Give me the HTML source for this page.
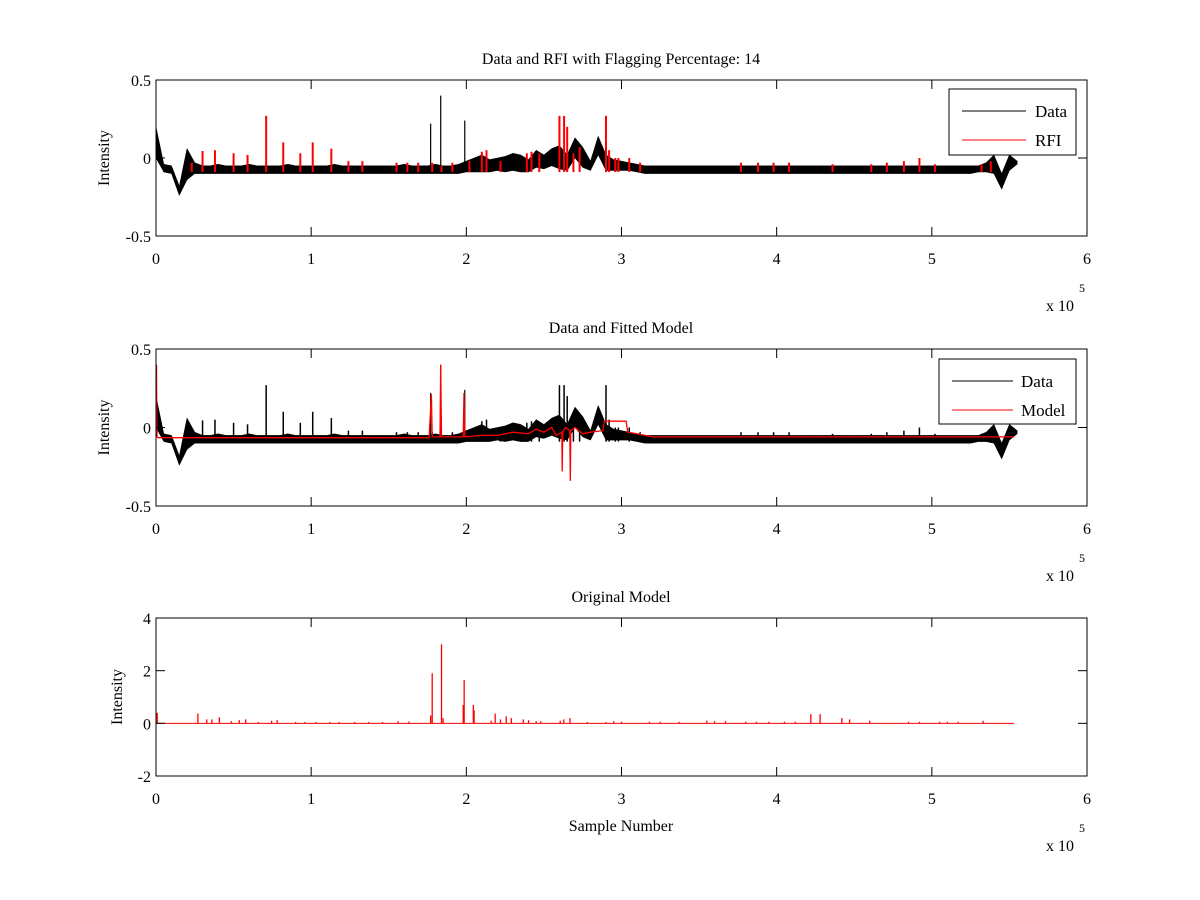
<!DOCTYPE html>
<html><head><meta charset="utf-8"><style>
body{margin:0;background:#fff}
svg{display:block;font-family:"Liberation Serif",serif}
</style></head><body>
<svg id="chart" width="1200" height="900" xmlns="http://www.w3.org/2000/svg">
<rect width="1200" height="900" fill="#fff"/>
</svg>
<script>
const binStep = 5000;
const dataHi = [0.20,-0.04,-0.05,-0.18,0.06,-0.03,-0.05,-0.05,-0.04,-0.05,-0.05,-0.05,-0.04,-0.05,-0.05,-0.05,-0.05,-0.04,-0.05,-0.05,-0.05,-0.05,-0.05,-0.04,-0.05,-0.05,-0.05,-0.05,-0.05,-0.05,-0.05,-0.05,-0.04,-0.05,-0.05,-0.05,-0.04,-0.05,-0.05,-0.04,-0.02,0.00,0.02,-0.01,0.00,0.01,0.03,0.02,-0.01,0.05,0.02,0.06,0.08,0.02,0.13,0.07,-0.02,0.14,0.02,-0.01,-0.02,-0.03,-0.04,-0.05,-0.05,-0.05,-0.05,-0.05,-0.05,-0.05,-0.05,-0.05,-0.05,-0.05,-0.05,-0.05,-0.05,-0.05,-0.05,-0.05,-0.05,-0.05,-0.05,-0.05,-0.05,-0.05,-0.05,-0.05,-0.05,-0.05,-0.05,-0.05,-0.05,-0.05,-0.05,-0.05,-0.05,-0.05,-0.05,-0.05,-0.05,-0.05,-0.05,-0.05,-0.05,-0.05,-0.05,-0.03,0.02,-0.10,0.02,-0.02];
const dataLo = [0.00,-0.09,-0.10,-0.24,-0.14,-0.10,-0.10,-0.10,-0.10,-0.10,-0.10,-0.10,-0.10,-0.10,-0.10,-0.10,-0.10,-0.10,-0.10,-0.10,-0.10,-0.10,-0.10,-0.10,-0.10,-0.10,-0.10,-0.10,-0.10,-0.10,-0.10,-0.10,-0.10,-0.10,-0.10,-0.10,-0.10,-0.10,-0.10,-0.10,-0.09,-0.09,-0.09,-0.09,-0.08,-0.09,-0.08,-0.09,-0.09,-0.06,-0.07,-0.05,-0.07,-0.08,0.00,-0.06,-0.08,0.02,-0.08,-0.08,-0.08,-0.08,-0.09,-0.10,-0.10,-0.10,-0.10,-0.10,-0.10,-0.10,-0.10,-0.10,-0.10,-0.10,-0.10,-0.10,-0.10,-0.10,-0.10,-0.10,-0.10,-0.10,-0.10,-0.10,-0.10,-0.10,-0.10,-0.10,-0.10,-0.10,-0.10,-0.10,-0.10,-0.10,-0.10,-0.10,-0.10,-0.10,-0.10,-0.10,-0.10,-0.10,-0.10,-0.10,-0.10,-0.10,-0.09,-0.09,-0.10,-0.20,-0.08,-0.04];
const dataSpikeX = [177000,183500,199000];
const dataSpikeY = [0.22,0.40,0.24];
const rfiX = [23000,30000,38000,50000,59000,71000,82000,93000,101000,113000,124000,133000,155000,162000,169000,178000,184000,191000,202000,210000,213000,222000,239000,242000,247000,260000,263000,265000,269000,273000,290000,292000,296000,298000,305000,312000,377000,388000,398000,408000,436000,461000,471000,482000,492000,502000,532000,538000];
const rfiY = [-0.03,0.045,0.05,0.03,0.02,0.27,0.10,0.03,0.10,0.06,-0.02,-0.02,-0.03,-0.03,-0.03,-0.03,-0.05,-0.03,-0.02,0.04,0.05,-0.02,0.03,0.04,0.03,0.27,0.27,0.20,0.03,0.07,0.27,0.05,0.00,0.00,0.00,-0.03,-0.03,-0.03,-0.03,-0.03,-0.04,-0.04,-0.03,-0.02,0.00,-0.04,-0.04,-0.02];
const modelX = [0,300,500,700,1500,176000,177500,178000,178500,183000,183500,184000,198000,198500,199000,210000,220000,230000,240000,245000,250000,255000,258000,261500,261800,262100,264000,266700,267000,267300,270000,275000,280000,288000,289000,303000,304000,310000,320000,553000];
const modelY = [0.0,0.40,0.0,-0.06,-0.065,-0.065,0.21,-0.06,-0.06,-0.06,0.40,-0.06,-0.06,0.22,-0.06,-0.05,-0.05,-0.03,-0.04,-0.01,-0.03,0.0,-0.05,-0.03,-0.28,-0.03,0.0,-0.02,-0.34,-0.02,0.0,-0.04,-0.03,-0.02,0.04,0.04,-0.03,-0.04,-0.06,-0.06];
const origX = [800,27000,32700,36000,40800,48500,53700,57800,66000,74500,78100,90000,96000,103000,112000,118000,128000,137000,146000,156000,163000,177000,178000,184000,185000,198000,198600,204500,205000,216000,218600,222000,225700,229000,236700,240100,245000,248000,260500,262800,266800,278000,290000,295000,300000,318000,325000,337000,355000,360000,367000,380000,387000,395000,405000,412000,422000,428000,442000,447000,460000,485000,492000,505000,510000,517000,533000];
const origY = [0.4,0.37,0.15,0.15,0.23,0.08,0.12,0.15,0.05,0.1,0.12,0.05,0.05,0.05,0.05,0.05,0.05,0.05,0.05,0.08,0.07,0.3,1.9,3.0,0.2,0.7,1.65,0.7,0.5,0.1,0.37,0.15,0.27,0.2,0.15,0.12,0.08,0.08,0.1,0.15,0.2,0.05,0.05,0.08,0.06,0.06,0.06,0.06,0.1,0.08,0.08,0.06,0.06,0.06,0.06,0.06,0.35,0.35,0.2,0.15,0.1,0.06,0.06,0.06,0.06,0.06,0.1];
const xTicks = [0,1,2,3,4,5,6];
const yTicks1 = [0.5,0,-0.5];
const yTicks3 = [4,2,0,-2];

const NS = 'http://www.w3.org/2000/svg';
const svg = document.getElementById('chart');
function mk(tag, attrs, parent){
  const e = document.createElementNS(NS, tag);
  for (const k in attrs) e.setAttribute(k, attrs[k]);
  (parent||svg).appendChild(e);
  return e;
}
const L = 156, R = 1087;
const sx = v => L + (v/600000)*(R-L);

function panel(name, top, bot, ymin, ymax, yTicks, title, ylabel, ylabX){
  const g = mk('g', {});
  
  
  const sy = v => bot - (v-ymin)/(ymax-ymin)*(bot-top);
  const clipId = name + '-clip';
  const cp = mk('clipPath', {id: clipId}, g);
  mk('rect', {x:L, y:top, width:R-L, height:bot-top}, cp);
  const plot = mk('g', {'clip-path':'url(#'+clipId+')'}, g);
  
  
  const box = mk('rect', {x:L, y:top, width:R-L, height:bot-top, fill:'none', stroke:'#000', 'stroke-width':1}, g);
  
  
  xTicks.forEach(t => {
    const x = sx(t*100000);
    mk('line', {x1:x, x2:x, y1:bot, y2:bot-9, stroke:'#000'}, g);
    mk('line', {x1:x, x2:x, y1:top, y2:top+9, stroke:'#000'}, g);
    const tl = mk('text', {x:x, y:bot+28, 'font-size':16, 'text-anchor':'middle'}, g);
    tl.textContent = t;
    
    
  });
  yTicks.forEach(t => {
    const y = sy(t);
    mk('line', {x1:L, x2:L+9, y1:y, y2:y, stroke:'#000'}, g);
    mk('line', {x1:R, x2:R-9, y1:y, y2:y, stroke:'#000'}, g);
    const tl = mk('text', {x:L-5, y:y+6, 'font-size':16, 'text-anchor':'end'}, g);
    tl.textContent = t;
    
    
  });
  const ex = mk('text', {x:1046, y:bot+75, 'font-size':16}, g);
  ex.textContent = 'x 10';
  
  
  const e5 = mk('text', {x:1079, y:bot+56, 'font-size':12}, g);
  e5.textContent = '5';
  
  
  const tt = mk('text', {x:621, y:top-16, 'font-size':16, 'text-anchor':'middle'}, g);
  tt.textContent = title;
  
  
  const yl = mk('text', {x:0, y:0, 'font-size':16, 'text-anchor':'middle', transform:'translate('+ylabX+','+((top+bot)/2)+') rotate(-90)'}, g);
  yl.textContent = ylabel;
  
  
  return {plot, sy, g};
}

function drawBand(p, color){
  let d = '';
  dataHi.forEach((v,i) => { d += (i?'L':'M') + sx(i*binStep).toFixed(1) + ' ' + p.sy(v).toFixed(1) + ' '; });
  for (let i = dataLo.length-1; i >= 0; i--) d += 'L' + sx(i*binStep).toFixed(1) + ' ' + p.sy(dataLo[i]).toFixed(1) + ' ';
  const band = mk('path', {d: d + 'Z', fill:color, stroke:color, 'stroke-width':0.5, 'stroke-linejoin':'miter'}, p.plot);
  
  
}
function spikes(p, xs, ys, base, color, w, nm){
  xs.forEach((x,i) => {
    const l = mk('line', {x1:sx(x), x2:sx(x), y1:p.sy(base), y2:p.sy(ys[i]), stroke:color, 'stroke-width':w}, p.plot);
    
    
  });
}
function legend(p, x, y, w, h, lx1, lx2, tx, items){
  const lg = mk('g', {}, p.g);
  
  
  mk('rect', {x:x, y:y, width:w, height:h, fill:'#fff', stroke:'#000'}, lg);
  items.forEach((it,i) => {
    const yy = y + 22 + i*29;
    const ln = mk('line', {x1:lx1, x2:lx2, y1:yy, y2:yy, stroke:it[1]}, lg);
    
    
    const t = mk('text', {x:tx, y:yy+6, 'font-size':17}, lg);
    t.textContent = it[0];
    
    
  });
}

const p1 = panel('panel-rfi', 80, 236, -0.5, 0.5, yTicks1, 'Data and RFI with Flagging Percentage: 14', 'Intensity', 109);
drawBand(p1, '#000');
spikes(p1, dataSpikeX, dataSpikeY, -0.08, '#000', 1.2, 'data-spike');
spikes(p1, rfiX, rfiY, -0.09, '#f00', 2, 'rfi-spike');
legend(p1, 949, 89, 127, 66, 962, 1026, 1035, [['Data','#000'],['RFI','#f00']]);

const p2 = panel('panel-model', 349, 506, -0.5, 0.5, yTicks1, 'Data and Fitted Model', 'Intensity', 109);
drawBand(p2, '#000');
spikes(p2, dataSpikeX, dataSpikeY, -0.08, '#000', 1.2, 'data-spike');
spikes(p2, rfiX, rfiY, -0.09, '#000', 1.5, 'data-spike');
let md = '';
modelX.forEach((x,i) => { md += (i?'L':'M') + sx(x).toFixed(1) + ' ' + p2.sy(modelY[i]).toFixed(1) + ' '; });
const mline = mk('path', {d: md, fill:'none', stroke:'#f00', 'stroke-width':1.3}, p2.plot);


legend(p2, 939, 359, 137, 65, 952, 1013, 1021, [['Data','#000'],['Model','#f00']]);

const p3 = panel('panel-original', 618, 776, -2, 4, yTicks3, 'Original Model', 'Intensity', 122);
const base3 = mk('line', {x1:sx(0), x2:sx(553000), y1:p3.sy(0), y2:p3.sy(0), stroke:'#f00', 'stroke-width':1}, p3.plot);


spikes(p3, origX, origY, 0, '#f00', 1.3, 'original-model-spike');
const xl = mk('text', {x:621, y:831, 'font-size':16, 'text-anchor':'middle'});
xl.textContent = 'Sample Number';


</script>
</body></html>
